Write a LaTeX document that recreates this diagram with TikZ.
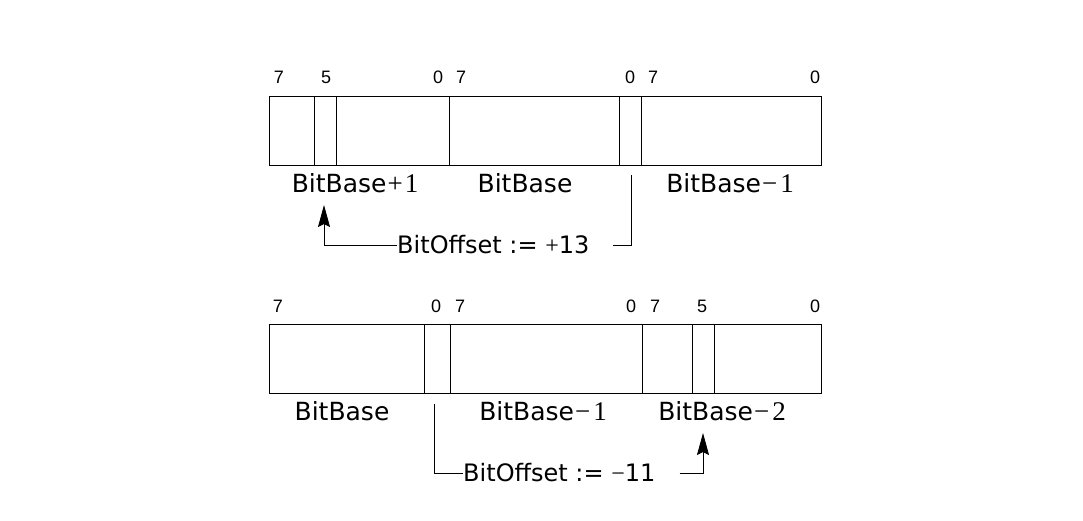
\documentclass[tikz,border=0pt]{standalone}
\usepackage{fontspec}
\setmainfont{DejaVu Sans}
\newfontfamily\bitnumfont{Liberation Sans}
\newfontfamily\opfont{Liberation Serif}
\newcommand{\baseop}[1]{{\opfont\fontsize{27}{27}\selectfont\kern1pt#1}}
\usetikzlibrary{arrows.meta}

\begin{document}
\begin{tikzpicture}[
  x=1pt,
  y=-1pt,
  byterow/.style={
    draw,
    line width=0.8pt,
    inner sep=0pt,
    outer sep=0pt,
    minimum width=552pt,
    minimum height=69pt,
    anchor=north west
  },
  divider/.style={
    draw,
    line width=0.8pt
  },
  bitnum/.style={
    inner sep=0pt,
    font=\bitnumfont\fontsize{18}{18}\selectfont
  },
  bytelabel/.style={
    inner sep=0pt,
    font=\fontsize{25}{25}\selectfont
  },
  offsetlabel/.style={
    inner sep=0pt,
    anchor=west,
    font=\fontsize{24}{24}\selectfont
  },
  offsetline/.style={
    draw,
    line width=0.8pt
  },
  offsetarrow/.style={
    -{Stealth[length=22pt,width=12pt,inset=3pt]},
    draw,
    line width=0.8pt
  }
]

\useasboundingbox (0,0) rectangle (1083,521);

% Upper example, positive offset
\node[byterow] (rowA) at (269,96) {};
\foreach \xd in {314,336,449,619,641}
  \draw[divider] (\xd,96) -- (\xd,165);

\node[bitnum] (a7l) at (279,77) {7};
\node[bitnum] (a5l) at (326,77) {5};
\node[bitnum] (a0l) at (438,77) {0};
\node[bitnum] (a7m) at (461,77) {7};
\node[bitnum] (a0m) at (630,77) {0};
\node[bitnum] (a7r) at (653,77) {7};
\node[bitnum] (a0r) at (815,77) {0};

\node[bytelabel] (baseAplus)  at (355,183) {BitBase\baseop{+\kern2pt1}};
\node[bytelabel] (baseA)      at (525,183) {BitBase};
\node[bytelabel] (baseAminus) at (730,183) {BitBase\baseop{−\kern3pt1}};

\coordinate (srcA) at (631,175);
\coordinate (tgtA) at (324,205);
\node[offsetlabel] (offA) at (397,245) {BitOffset := {\opfont +}13};

\draw[offsetline] (srcA) |- ([xshift=23pt]offA.east);
\draw[offsetarrow] (offA.west) -| (tgtA);

% Lower example, negative offset
\node[byterow] (rowB) at (269,324) {};
\foreach \xd in {424,450,642,692,714}
  \draw[divider] (\xd,324) -- (\xd,393);

\node[bitnum] (b7l) at (278,306) {7};
\node[bitnum] (b0l) at (436,306) {0};
\node[bitnum] (b7m) at (460,306) {7};
\node[bitnum] (b0m) at (631,306) {0};
\node[bitnum] (b7r) at (655,306) {7};
\node[bitnum] (b5r) at (702,306) {5};
\node[bitnum] (b0r) at (815,306) {0};

\node[bytelabel] (baseB)       at (342,411) {BitBase};
\node[bytelabel] (baseBminus)  at (543,411) {BitBase\baseop{−\kern3pt1}};
\node[bytelabel] (baseBminusb) at (722,411) {BitBase\baseop{−\kern3pt2}};

\coordinate (srcB) at (434,404);
\coordinate (tgtB) at (703,433);
\node[offsetlabel] (offB) at (463,473) {BitOffset := {\opfont −}11};

\draw[offsetline] (srcB) |- (offB.west);
\draw[offsetarrow] ([xshift=24pt]offB.east) -| (tgtB);

\end{tikzpicture}
\end{document}
